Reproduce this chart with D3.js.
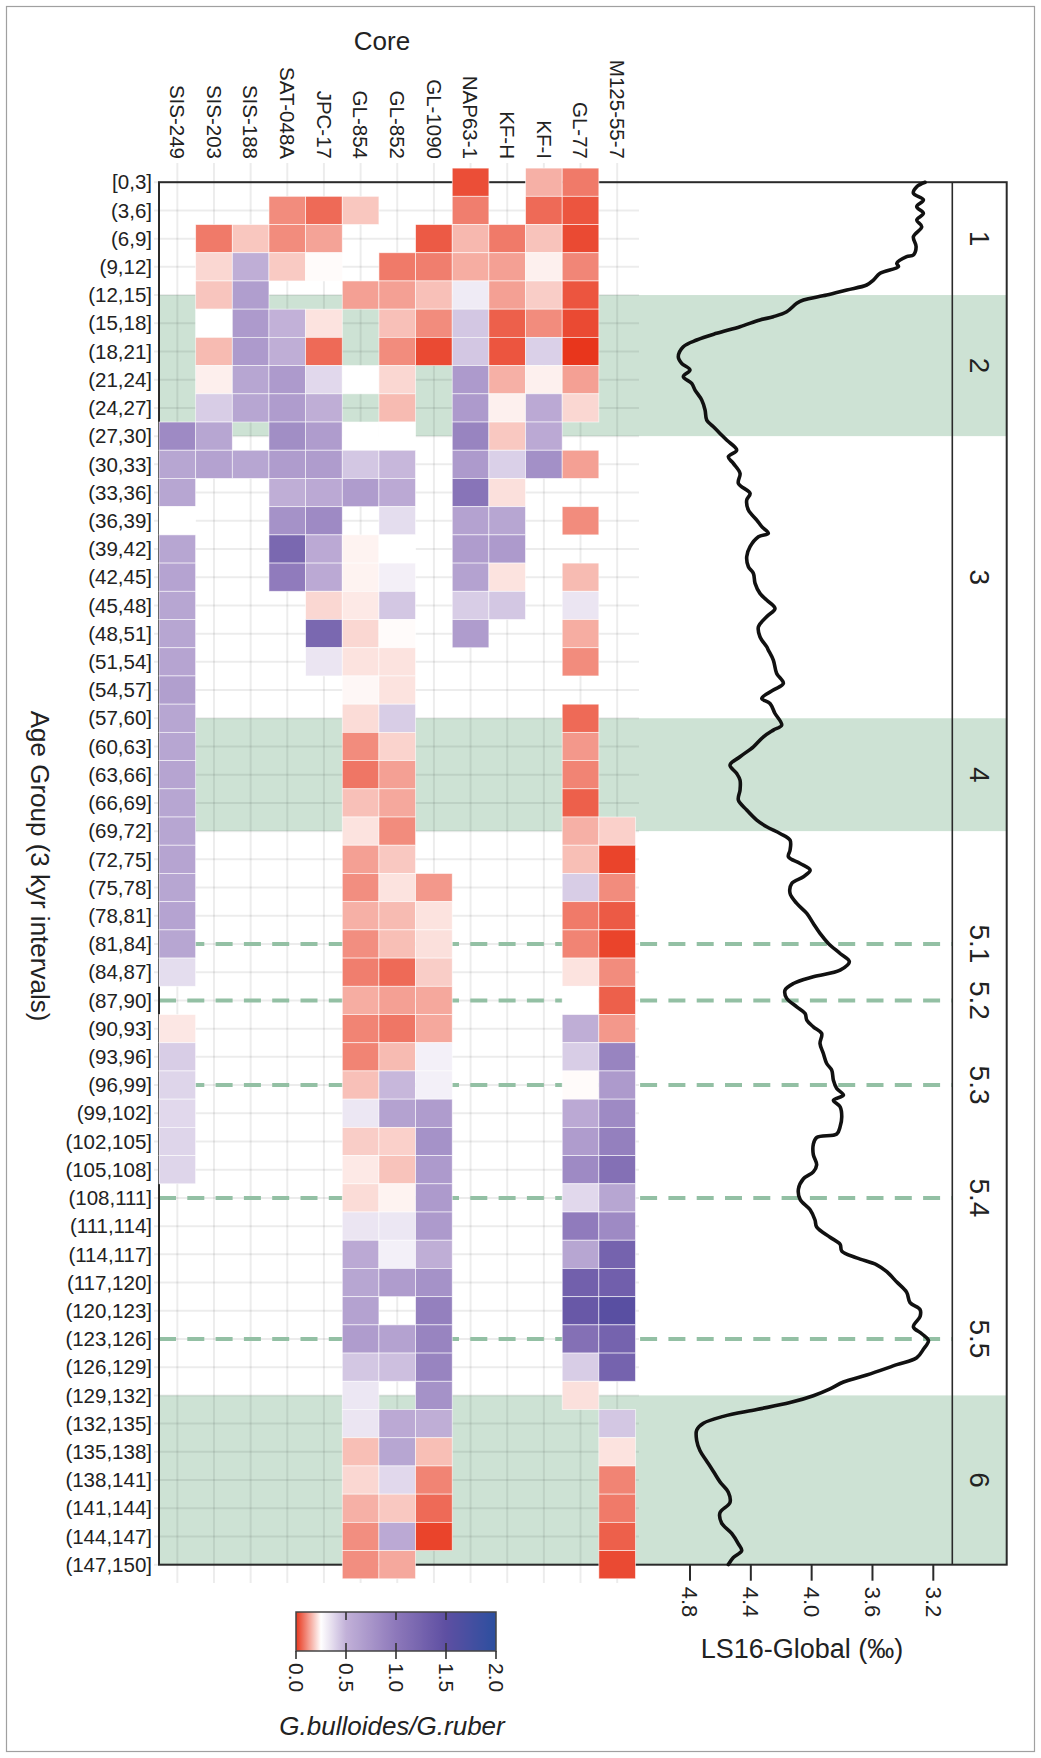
<!DOCTYPE html>
<html>
<head>
<meta charset="utf-8">
<script src="https://cdn.jsdelivr.net/npm/d3@7"></script>
<style>
  html, body { margin: 0; padding: 0; background: #fff; }
  svg { display: block; font-family: "Liberation Sans", Arial, Helvetica, sans-serif; }
</style>
</head>
<body>
<svg id="fig" width="1041" height="1758"></svg>
<script>
// ---------- categories ----------
const cores = ["SIS-249", "SIS-203", "SIS-188", "SAT-048A", "JPC-17", "GL-854", "GL-852",
               "GL-1090", "NAP63-1", "KF-H", "KF-I", "GL-77", "M125-55-7"];

const ageGroups = ["[0,3]", "(3,6]", "(6,9]", "(9,12]", "(12,15]", "(15,18]", "(18,21]", "(21,24]",
  "(24,27]", "(27,30]", "(30,33]", "(33,36]", "(36,39]", "(39,42]", "(42,45]", "(45,48]", "(48,51]",
  "(51,54]", "(54,57]", "(57,60]", "(60,63]", "(63,66]", "(66,69]", "(69,72]", "(72,75]", "(75,78]",
  "(78,81]", "(81,84]", "(84,87]", "(87,90]", "(90,93]", "(93,96]", "(96,99]", "(99,102]",
  "(102,105]", "(105,108]", "(108,111]", "(111,114]", "(114,117]", "(117,120]", "(120,123]",
  "(123,126]", "(126,129]", "(129,132]", "(132,135]", "(135,138]", "(138,141]", "(141,144]",
  "(144,147]", "(147,150]"];

// ---------- G. bulloides / G. ruber ratio per core, one value per age group ----------
const sis249 = [null, null, null, null, null, null, null, null, null, 0.84,
  0.60, 0.60, 0.25, 0.60, 0.62, 0.60, 0.60, 0.61, 0.66, 0.60,
  0.60, 0.61, 0.60, 0.60, 0.61, 0.60, 0.62, 0.60, 0.36, null,
  0.22, 0.41, 0.385, 0.375, 0.385, 0.385, null, null, null, null,
  null, null, null, null, null, null, null, null, null, null];
const sis203 = [null, null, 0.085, 0.20, 0.178, 0.25, 0.165, 0.23, 0.41, 0.60,
  0.63, null, null, null, null, null, null, null, null, null,
  null, null, null, null, null, null, null, null, null, null,
  null, null, null, null, null, null, null, null, null, null,
  null, null, null, null, null, null, null, null, null, null];
const sis188 = [null, null, 0.18, 0.53, 0.67, 0.70, 0.70, 0.60, 0.60, null,
  0.60, null, null, null, null, null, null, null, null, null,
  null, null, null, null, null, null, null, null, null, null,
  null, null, null, null, null, null, null, null, null, null,
  null, null, null, null, null, null, null, null, null, null];
const sat048a = [null, 0.107, 0.107, 0.184, null, 0.50, 0.53, 0.70, 0.68, 0.81,
  0.68, 0.53, 0.77, 1.20, 0.97, null, null, null, null, null,
  null, null, null, null, null, null, null, null, null, null,
  null, null, null, null, null, null, null, null, null, null,
  null, null, null, null, null, null, null, null, null, null];
const jpc17 = [null, 0.065, 0.135, 0.245, null, 0.215, 0.065, 0.375, 0.53, 0.68,
  0.68, 0.57, 0.84, 0.57, 0.57, 0.20, 1.20, 0.333, null, null,
  null, null, null, null, null, null, null, null, null, null,
  null, null, null, null, null, null, null, null, null, null,
  null, null, null, null, null, null, null, null, null, null];
const gl854 = [null, 0.18, null, null, 0.132, null, null, 0.25, null, 0.25,
  0.43, 0.68, null, 0.235, 0.235, 0.223, 0.20, 0.215, 0.24, 0.206,
  0.107, 0.08, 0.172, 0.215, 0.132, 0.11, 0.152, 0.11, 0.09, 0.148,
  0.097, 0.097, 0.172, 0.327, 0.188, 0.223, 0.206, 0.333, 0.57, 0.60,
  0.63, 0.68, 0.43, 0.327, 0.333, 0.17, 0.20, 0.152, 0.11, 0.11];
const gl852 = [null, null, null, 0.085, 0.132, 0.172, 0.107, 0.20, 0.165, 0.25,
  0.48, 0.57, 0.36, 0.25, 0.30, 0.43, 0.245, 0.215, 0.215, 0.41,
  0.195, 0.132, 0.142, 0.107, 0.182, 0.215, 0.165, 0.17, 0.065, 0.132,
  0.08, 0.165, 0.48, 0.63, 0.192, 0.175, 0.235, 0.327, 0.298, 0.68,
  null, 0.63, 0.455, null, 0.57, 0.60, 0.375, 0.182, 0.57, 0.142];
const gl1090 = [null, null, 0.045, 0.09, 0.172, 0.107, 0.025, null, null, null,
  null, null, null, null, null, null, null, null, null, null,
  null, null, null, null, null, 0.122, 0.215, 0.211, 0.188, 0.142,
  0.142, 0.298, 0.298, 0.68, 0.77, 0.70, 0.70, 0.70, 0.53, 0.77,
  0.93, 0.895, 0.895, 0.77, 0.53, 0.17, 0.097, 0.065, 0.017, null];
const nap631 = [0.03, 0.09, 0.162, 0.148, 0.314, 0.43, 0.43, 0.70, 0.70, 0.895,
  0.70, 1.05, 0.63, 0.68, 0.63, 0.41, 0.68, null, null, null,
  null, null, null, null, null, null, null, null, null, null,
  null, null, null, null, null, null, null, null, null, null,
  null, null, null, null, null, null, null, null, null, null];
const kfh = [null, null, 0.085, 0.132, 0.132, 0.052, 0.039, 0.152, 0.231, 0.182,
  0.40, 0.211, 0.60, 0.70, 0.215, 0.43, null, null, null, null,
  null, null, null, null, null, null, null, null, null, null,
  null, null, null, null, null, null, null, null, null, null,
  null, null, null, null, null, null, null, null, null, null];
const kfi = [0.152, 0.065, 0.175, 0.231, 0.188, 0.107, 0.40, 0.231, 0.57, 0.57,
  0.79, null, null, null, null, null, null, null, null, null,
  null, null, null, null, null, null, null, null, null, null,
  null, null, null, null, null, null, null, null, null, null,
  null, null, null, null, null, null, null, null, null, null];
const gl77 = [0.085, 0.039, 0.025, 0.10, 0.039, 0.025, 0.0, 0.132, 0.20, null,
  0.132, null, 0.107, null, 0.165, 0.333, 0.148, 0.107, null, 0.065,
  0.122, 0.097, 0.052, 0.152, 0.17, 0.41, 0.085, 0.097, 0.215, 0.25,
  0.53, 0.41, 0.245, 0.57, 0.68, 0.84, 0.375, 0.97, 0.60, 1.29,
  1.39, 1.10, 0.41, 0.211, null, null, null, null, null, null];
const m125557 = [null, null, null, null, null, null, null, null, null, null,
  null, null, null, null, null, null, null, null, null, null,
  null, null, null, 0.192, 0.017, 0.107, 0.045, 0.017, 0.107, 0.052,
  0.122, 0.895, 0.70, 0.84, 0.93, 1.10, 0.60, 0.84, 1.26, 1.30,
  1.55, 1.26, 1.26, null, 0.43, 0.215, 0.097, 0.085, 0.052, 0.025];

const coreSeries = [sis249, sis203, sis188, sat048a, jpc17, gl854, gl852,
                    gl1090, nap631, kfh, kfi, gl77, m125557];

// ---------- LS16 global benthic d18O stack (age in kyr, value in permil) ----------
const lsAge = [1.51, 1.98, 2.68, 3.39, 4.10, 4.81, 5.52, 6.23, 7.29, 8.36, 9.24, 9.42, 10.13, 10.48,
  11.19, 11.90, 12.43, 12.96, 13.50, 14.03, 14.38, 15.27, 15.80, 16.15, 16.86, 17.57, 18.28, 18.99,
  20.05, 20.76, 21.47, 22.18, 22.89, 23.60, 24.66, 25.72, 26.79, 27.50, 28.21, 28.92, 29.98, 30.69,
  31.40, 32.46, 33.52, 34.59, 35.30, 36.36, 37.42, 38.13, 38.84, 39.20, 40.26, 41.32, 42.39, 43.10,
  44.16, 45.22, 45.93, 46.82, 47.70, 48.77, 49.83, 50.89,
  51.25, 52.31, 53.73, 54.79, 55.50, 56.39, 56.92, 57.99, 59.23, 59.76, 60.47, 61.53, 62.59, 63.48,
  64.37, 65.07, 66.14, 67.20, 68.26, 69.33, 70.04, 70.75, 71.46, 72.52, 73.23, 73.94, 74.65, 75.35,
  76.06, 77.13, 78.19, 79.25, 80.32, 81.38, 82.44, 83.51, 84.39, 85.28, 85.99, 86.70, 87.41, 88.29,
  89.18, 89.89, 90.60, 91.31, 92.02, 93.08, 94.14, 95.21, 95.91, 96.98, 97.86, 98.57, 99.11, 99.81,
  100.88, 101.94,
  102.70, 103.07, 103.80, 104.90, 105.99, 106.73, 107.46, 108.56, 109.66, 110.76, 111.85, 112.59,
  113.68, 114.42, 115.15, 115.88, 116.61, 117.35, 118.45, 119.54, 120.64, 121.38, 122.11, 123.21,
  123.94, 124.67, 125.59, 126.50, 127.23, 128.33, 129.07, 129.80, 130.53, 131.26, 132.00, 132.73,
  133.46, 134.19, 135.29, 136.39, 137.49, 138.59, 139.69, 140.79, 141.88, 142.98, 144.08, 145.18,
  146.28, 147.01, 147.74, 148.48];
const lsD18O = [3.254, 3.309, 3.331, 3.265, 3.309, 3.265, 3.309, 3.276, 3.331, 3.313, 3.331, 3.375,
  3.440, 3.429, 3.550, 3.594, 3.638, 3.769, 3.901, 4.054, 4.098, 4.164, 4.252, 4.340, 4.471, 4.625,
  4.756, 4.844, 4.877, 4.855, 4.800, 4.844, 4.789, 4.767, 4.723, 4.701, 4.690, 4.646, 4.603, 4.559,
  4.493, 4.548, 4.515, 4.471, 4.482, 4.405, 4.427, 4.416, 4.361, 4.328, 4.285, 4.350, 4.405, 4.427,
  4.416, 4.383, 4.372, 4.340, 4.296, 4.241, 4.296, 4.350, 4.340, 4.296,
  4.285, 4.252, 4.230, 4.186, 4.252, 4.328, 4.274, 4.241, 4.197, 4.252, 4.317, 4.383, 4.471, 4.537,
  4.493, 4.471, 4.471, 4.482, 4.427, 4.361, 4.296, 4.208, 4.142, 4.142, 4.153, 4.076, 4.010, 4.054,
  4.131, 4.142, 4.098, 4.032, 3.989, 3.945, 3.890, 3.813, 3.752, 3.813, 3.989, 4.120, 4.175, 4.164,
  4.098, 4.043, 4.032, 3.989, 3.934, 3.945, 3.923, 3.901, 3.868, 3.857, 3.835, 3.791, 3.857, 3.813,
  3.802, 3.813,
  3.835, 3.967, 3.989, 3.989, 3.967, 3.989, 4.054, 4.087, 4.076, 4.010, 3.978, 3.967,
  3.879, 3.813, 3.802, 3.704, 3.572, 3.506, 3.440, 3.375, 3.353, 3.287, 3.287, 3.331,
  3.276, 3.232, 3.265, 3.309, 3.440, 3.638, 3.791, 3.879, 3.989, 4.142, 4.361, 4.581,
  4.712, 4.756, 4.756, 4.734, 4.690, 4.646, 4.603, 4.548, 4.537, 4.603, 4.592, 4.526,
  4.482, 4.460, 4.515, 4.548];
const isoTicks = [4.8, 4.4, 4.0, 3.6, 3.2];

// ---------- marine isotope stages ----------
const glacialStart = [13.5, 58.5, 130.5];
const glacialEnd = [28.5, 70.5, 148.5];
const substageAges = [82.5, 88.5, 97.5, 109.5, 124.5];
const misLabels = ["1", "2", "3", "4", "5.1", "5.2", "5.3", "5.4", "5.5", "6"];
const misLabelAges = [7.5, 21, 43.5, 64.5, 82.5, 88.5, 97.5, 109.5, 124.5, 139.5];

// ---------- colour legend ----------
const ratioStops = [0, 0.25, 0.5, 1.0, 1.5, 2.0];
const ratioColors = ["#e8361c", "#ffffff", "#c2b1d8", "#8d78ba", "#5e4fa2", "#2c4f9f"];
const legendTicks = [0, 0.5, 1.0, 1.5, 2.0];

// ================= drawing =================
const svg = d3.select("#fig");
const textColor = "#222";

const x = d3.scaleBand().domain(cores).range([159, 635.5]);
const y = d3.scaleBand().domain(ageGroups).range([168.1, 1578.8]);
const bw = y.bandwidth();
const yMid = g => y(g) + bw / 2;
const yAge = d3.scaleLinear().domain([1.5, 148.5])
  .range([yMid(ageGroups[0]), yMid(ageGroups[ageGroups.length - 1])]);
const xIso = d3.scaleLinear().domain([4.8, 3.2]).range([690, 933.3]);
const color = d3.scaleLinear().domain(ratioStops).range(ratioColors).clamp(true);

const frameLeft = 159, frameRight = 1006.7, stageCol = 952.3;
const frameTop = yAge.range()[0], frameBottom = yAge.range()[1];

// figure border
svg.append("rect").attr("x", 6.5).attr("y", 6.5).attr("width", 1028).attr("height", 1745)
  .attr("fill", "none").attr("stroke", "#a0a0a0").attr("stroke-width", 1.2);

// glacial stage shading
svg.append("g").selectAll("rect").data(glacialStart).join("rect")
  .attr("x", frameLeft).attr("width", frameRight - frameLeft)
  .attr("y", (d, i) => yAge(d)).attr("height", (d, i) => yAge(glacialEnd[i]) - yAge(d))
  .attr("fill", "#cde2d4");

// heatmap grid
const grid = svg.append("g").attr("stroke", "#000").attr("stroke-opacity", 0.075).attr("stroke-width", 2);
grid.selectAll("line.v").data(cores).join("line").attr("class", "v")
  .attr("x1", d => x(d) + x.bandwidth() / 2).attr("x2", d => x(d) + x.bandwidth() / 2)
  .attr("y1", 163).attr("y2", 1583);
grid.selectAll("line.h").data(ageGroups).join("line").attr("class", "h")
  .attr("y1", d => yMid(d)).attr("y2", d => yMid(d))
  .attr("x1", 154).attr("x2", 639);

// substage boundaries
svg.append("g").selectAll("line").data(substageAges).join("line")
  .attr("x1", frameLeft).attr("x2", stageCol)
  .attr("y1", d => yAge(d)).attr("y2", d => yAge(d))
  .attr("stroke", "#93c0a4").attr("stroke-width", 4).attr("stroke-dasharray", "17,11.3");

// isotope panel frame
svg.append("rect").attr("x", frameLeft).attr("y", frameTop)
  .attr("width", frameRight - frameLeft).attr("height", frameBottom - frameTop)
  .attr("fill", "none").attr("stroke", "#2a2a2a").attr("stroke-width", 2);
svg.append("line").attr("x1", stageCol).attr("x2", stageCol)
  .attr("y1", frameTop).attr("y2", frameBottom).attr("stroke", "#2a2a2a").attr("stroke-width", 1.6);

// isotope axis
const isoAxis = svg.append("g");
isoAxis.selectAll("line").data(isoTicks).join("line")
  .attr("x1", d => xIso(d)).attr("x2", d => xIso(d))
  .attr("y1", frameBottom).attr("y2", frameBottom + 16)
  .attr("stroke", "#2a2a2a").attr("stroke-width", 2);
isoAxis.selectAll("text").data(isoTicks).join("text")
  .attr("transform", d => `translate(${xIso(d)},${frameBottom + 22}) rotate(90)`)
  .attr("dy", "0.35em").attr("text-anchor", "start")
  .attr("font-size", 22).attr("fill", textColor)
  .text(d => d.toFixed(1));
svg.append("text").attr("x", 802).attr("y", 1658).attr("text-anchor", "middle")
  .attr("font-size", 27).attr("fill", textColor).text("LS16-Global (\u2030)");

// d18O curve
const curvePts = lsAge.map((a, i) => [xIso(lsD18O[i]), yAge(a)]);
svg.append("path").attr("d", d3.line().curve(d3.curveCatmullRom.alpha(0.5))(curvePts))
  .attr("fill", "none").attr("stroke", "#111").attr("stroke-width", 3.6)
  .attr("stroke-linejoin", "round").attr("stroke-linecap", "round");

// stage labels
svg.append("g").selectAll("text").data(misLabels).join("text")
  .attr("transform", (d, i) => `translate(${(stageCol + frameRight) / 2},${yAge(misLabelAges[i])}) rotate(90)`)
  .attr("dy", "0.35em").attr("text-anchor", "middle")
  .attr("font-size", 28).attr("fill", textColor).text(d => d);

// heatmap cells
const cells = [];
coreSeries.forEach((series, ci) => series.forEach((v, ri) => {
  if (v !== null) cells.push({ core: cores[ci], age: ageGroups[ri], value: v });
}));
svg.append("g").selectAll("rect").data(cells).join("rect")
  .attr("x", d => x(d.core)).attr("y", d => y(d.age))
  .attr("width", x.bandwidth()).attr("height", bw)
  .attr("fill", d => color(d.value))
  .attr("stroke", "#fff").attr("stroke-width", 0.8).attr("stroke-opacity", 0.7);

// core labels
svg.append("g").selectAll("text").data(cores).join("text")
  .attr("transform", d => `translate(${x(d) + x.bandwidth() / 2},159) rotate(90)`)
  .attr("dy", "0.35em").attr("text-anchor", "end")
  .attr("font-size", 20.5).attr("fill", textColor).text(d => d);
svg.append("text").attr("x", 382).attr("y", 50).attr("text-anchor", "middle")
  .attr("font-size", 26).attr("fill", textColor).text("Core");

// age group labels
svg.append("g").selectAll("text").data(ageGroups).join("text")
  .attr("x", 152).attr("y", d => yMid(d)).attr("dy", "0.35em")
  .attr("text-anchor", "end").attr("font-size", 20.5).attr("fill", textColor).text(d => d);
svg.append("text").attr("transform", "translate(40,866) rotate(90)")
  .attr("dy", "0.35em").attr("text-anchor", "middle")
  .attr("font-size", 26).attr("fill", textColor).text("Age Group (3 kyr intervals)");

// colour bar
const lx = d3.scaleLinear().domain([0, 2]).range([296, 496]);
const barTop = 1612, barH = 39;
const grad = svg.append("defs").append("linearGradient").attr("id", "ratioGrad")
  .attr("x1", "0%").attr("x2", "100%").attr("y1", "0%").attr("y2", "0%");
grad.selectAll("stop").data(d3.range(0, 2.0001, 0.025)).join("stop")
  .attr("offset", d => (d / 2 * 100) + "%").attr("stop-color", d => color(d));
svg.append("rect").attr("x", lx(0)).attr("y", barTop).attr("width", lx(2) - lx(0)).attr("height", barH)
  .attr("fill", "url(#ratioGrad)").attr("stroke", "#444").attr("stroke-width", 1.5);
const lt = svg.append("g").attr("stroke", "#333").attr("stroke-width", 1.6);
lt.selectAll("line.in1").data(legendTicks.slice(1, -1)).join("line").attr("class", "in1")
  .attr("x1", d => lx(d)).attr("x2", d => lx(d)).attr("y1", barTop).attr("y2", barTop + 8);
lt.selectAll("line.in2").data(legendTicks.slice(1, -1)).join("line").attr("class", "in2")
  .attr("x1", d => lx(d)).attr("x2", d => lx(d)).attr("y1", barTop + barH - 8).attr("y2", barTop + barH);
lt.selectAll("line.out").data(legendTicks).join("line").attr("class", "out")
  .attr("x1", d => lx(d)).attr("x2", d => lx(d)).attr("y1", barTop + barH).attr("y2", barTop + barH + 8);
svg.append("g").selectAll("text").data(legendTicks).join("text")
  .attr("transform", d => `translate(${lx(d)},${barTop + barH + 12}) rotate(90)`)
  .attr("dy", "0.35em").attr("text-anchor", "start")
  .attr("font-size", 21).attr("fill", textColor).text(d => d.toFixed(1));
svg.append("text").attr("x", 392).attr("y", 1735).attr("text-anchor", "middle")
  .attr("font-size", 26).attr("font-style", "italic").attr("fill", textColor)
  .text("G.bulloides/G.ruber");
</script>
</body>
</html>
